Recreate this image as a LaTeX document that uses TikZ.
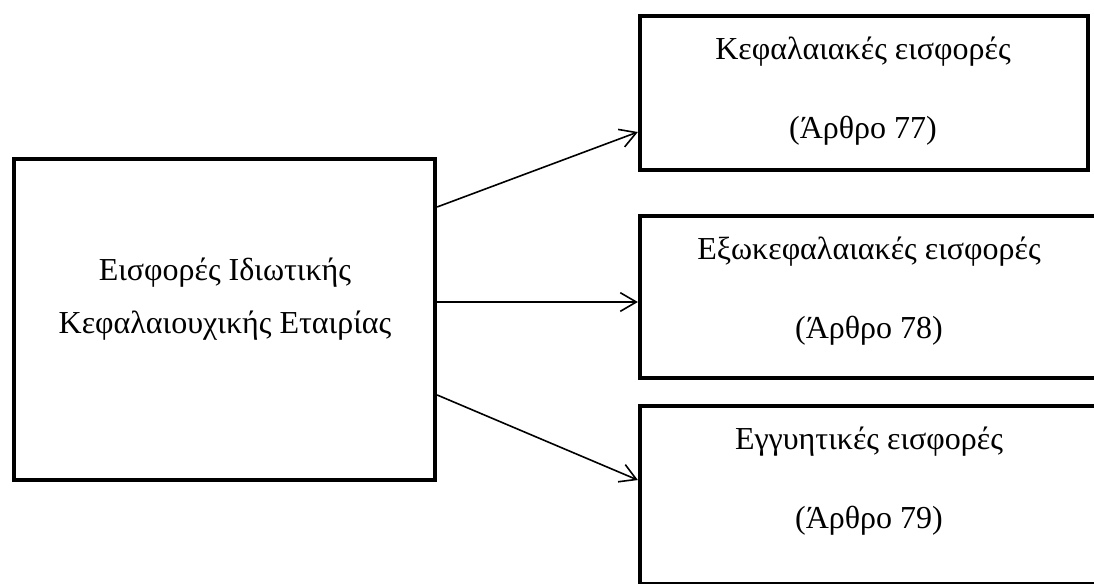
\documentclass[tikz,border=0pt]{standalone}
\usepackage{fontspec}
\setmainfont{Liberation Serif}
\usepackage{tikz}
\usetikzlibrary{arrows.meta, positioning}

\begin{document}
\begin{tikzpicture}[
    x=0.75pt, y=-0.75pt,
    box/.style={rectangle, draw, line width=3.2pt, inner sep=0pt},
    lbl/.style={align=center, inner sep=0pt, anchor=base, font=\fontsize{24}{39.75}\selectfont},
    arr/.style={-{Straight Barb[length=12pt, width=14pt]}, line width=1.2pt}
]
\useasboundingbox (0,0) rectangle (1094,583);
\clip (0,0) rectangle (1094,583);

\node (src) [box, minimum width=315.75pt, minimum height=240.75pt] at (224.5,319.5) {};
\node (kef) [box, minimum width=336pt, minimum height=115.5pt] at (864,93) {};
\node (exo) [box, minimum width=343.5pt, minimum height=121.5pt] at (869,297) {};
\node (egg) [box, minimum width=343.5pt, minimum height=133.9pt] at (869,495.25) {};

% the base anchor sits on the last line
\node (srcText) [lbl] at (225,333) {Εισφορές Ιδιωτικής\\Κεφαλαιουχικής Εταιρίας};
\node (kefText) [lbl] at (863,138) {Κεφαλαιακές εισφορές\\[19.5pt](Άρθρο 77)};
\node (exoText) [lbl] at (869,338) {Εξωκεφαλαιακές εισφορές\\[19.5pt](Άρθρο 78)};
\node (eggText) [lbl] at (869,528) {Εγγυητικές εισφορές\\[19.5pt](Άρθρο 79)};

\draw [arr] ([yshift=84.4pt]src.east) -- ([yshift=-29.25pt]kef.west);
\draw [arr] ([yshift=13.1pt]src.east) -- ([yshift=-3.75pt]exo.west);
\draw [arr] ([yshift=-56.6pt]src.east) -- ([yshift=11.4pt]egg.west);

\end{tikzpicture}
\end{document}
